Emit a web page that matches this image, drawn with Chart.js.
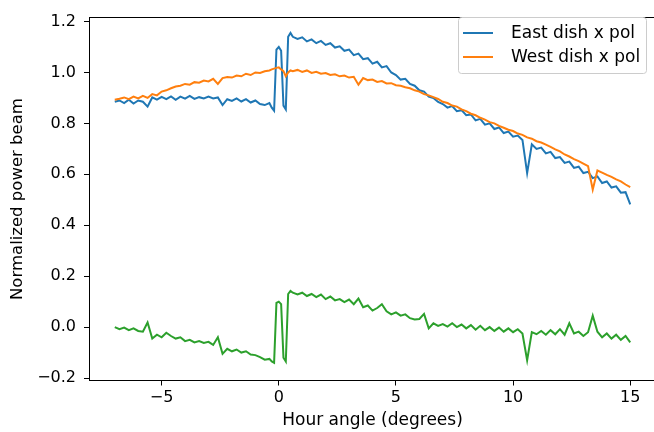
<!DOCTYPE html>
<html lang="en">
<head>
<meta charset="UTF-8">
<title>Normalized power beam</title>
<script src="https://cdn.jsdelivr.net/npm/chart.js@4.4.0/dist/chart.umd.min.js"></script>
<style>
    html, body { margin: 0; padding: 0; background: #fff; overflow: hidden; }
    .frame { width: 654px; height: 432px; overflow: hidden; }
    .box { width: 660px; height: 432px; position: relative; }
</style>
</head>
<body>
<div class="frame">
    <div class="box">
        <canvas id="beam" width="660" height="432"></canvas>
    </div>
</div>
<script>
// hour angle in degrees
const hourAngle = [
    -7.0, -6.8, -6.6, -6.4, -6.2, -6.0, -5.8, -5.6, -5.4, -5.2,
    -5.0, -4.8, -4.6, -4.4, -4.2, -4.0, -3.8, -3.6, -3.4, -3.2,
    -3.0, -2.8, -2.6, -2.4, -2.2, -2.0, -1.8, -1.6, -1.4, -1.2,
    -1.0, -0.8, -0.6, -0.4,
    -0.3, -0.2, -0.1, 0.0, 0.1, 0.2, 0.3, 0.4, 0.5,
    0.6, 0.8, 1.0, 1.2, 1.4, 1.6, 1.8, 2.0, 2.2, 2.4,
    2.6, 2.8, 3.0, 3.2, 3.4, 3.6, 3.8, 4.0, 4.2, 4.4,
    4.6, 4.8, 5.0, 5.2, 5.4, 5.6, 5.8, 6.0, 6.2, 6.4,
    6.6, 6.8, 7.0, 7.2, 7.4, 7.6, 7.8, 8.0, 8.2, 8.4,
    8.6, 8.8, 9.0, 9.2, 9.4, 9.6, 9.8, 10.0, 10.2, 10.4,
    10.6, 10.8, 11.0, 11.2, 11.4, 11.6, 11.8, 12.0, 12.2, 12.4,
    12.6, 12.8, 13.0, 13.2, 13.4, 13.6, 13.8, 14.0, 14.2, 14.4,
    14.6, 14.8, 15.0
];

const eastXpol = [
    0.885, 0.890, 0.880, 0.893, 0.878, 0.890, 0.885, 0.866, 0.902, 0.893,
    0.904, 0.895, 0.906, 0.893, 0.905, 0.897, 0.908, 0.896, 0.903, 0.898,
    0.905, 0.898, 0.902, 0.872, 0.895, 0.888, 0.898, 0.886, 0.895, 0.882,
    0.890, 0.876, 0.872, 0.880,
    0.862, 0.850, 1.090, 1.100, 1.085, 0.870, 0.855, 1.140, 1.155,
    1.140, 1.132, 1.138, 1.122, 1.130, 1.115, 1.124, 1.108, 1.115, 1.098,
    1.103, 1.085, 1.090, 1.068, 1.074, 1.052, 1.056, 1.035, 1.042, 1.020,
    1.025, 1.000, 0.990, 0.972, 0.975, 0.955, 0.948, 0.930, 0.925, 0.905,
    0.900, 0.884, 0.876, 0.862, 0.868, 0.848, 0.852, 0.832, 0.835, 0.812,
    0.818, 0.795, 0.800, 0.778, 0.784, 0.762, 0.768, 0.748, 0.752, 0.735,
    0.605, 0.718, 0.700, 0.705, 0.682, 0.688, 0.664, 0.668, 0.645, 0.650,
    0.625, 0.630, 0.605, 0.610, 0.585, 0.592, 0.566, 0.572, 0.548, 0.553,
    0.528, 0.530, 0.482
];

const westXpol = [
    0.893, 0.897, 0.902, 0.895, 0.905, 0.898, 0.908, 0.900, 0.915, 0.910,
    0.925, 0.930, 0.938, 0.945, 0.948, 0.955, 0.952, 0.962, 0.960, 0.968,
    0.965, 0.975, 0.955, 0.978, 0.982, 0.980, 0.988, 0.985, 0.995, 0.990,
    1.000, 0.998, 1.005, 1.008,
    1.012, 1.015, 1.018, 1.020, 1.012, 1.005, 0.985, 1.000, 1.008,
    1.005, 1.010, 1.002, 1.008, 0.998, 1.003, 0.995, 0.998, 0.990, 0.993,
    0.985, 0.988, 0.980, 0.983, 0.952, 0.978, 0.970, 0.972, 0.963, 0.966,
    0.957, 0.958, 0.950, 0.948, 0.942, 0.938, 0.930, 0.925, 0.915, 0.910,
    0.903, 0.896, 0.885, 0.880, 0.870, 0.866, 0.855, 0.848, 0.838, 0.832,
    0.822, 0.815, 0.805, 0.800, 0.790, 0.783, 0.775, 0.770, 0.760, 0.755,
    0.745, 0.740, 0.730, 0.725, 0.717, 0.708, 0.698, 0.690, 0.678, 0.670,
    0.660, 0.652, 0.642, 0.632, 0.540, 0.615, 0.607, 0.598, 0.590, 0.580,
    0.572, 0.560, 0.550
];

// east minus west
const diffXpol = [
    0.000, -0.008, -0.002, -0.012, -0.005, -0.015, -0.018, 0.018, -0.045, -0.030,
    -0.040, -0.022, -0.035, -0.045, -0.040, -0.055, -0.050, -0.060, -0.055, -0.062,
    -0.058, -0.070, -0.040, -0.105, -0.085, -0.095, -0.088, -0.100, -0.095, -0.108,
    -0.110, -0.118, -0.128, -0.125,
    -0.135, -0.140, 0.095, 0.100, 0.090, -0.120, -0.135, 0.130, 0.142,
    0.135, 0.128, 0.135, 0.122, 0.130, 0.118, 0.128, 0.110, 0.120, 0.105,
    0.110, 0.098, 0.108, 0.090, 0.112, 0.078, 0.085, 0.065, 0.075, 0.090,
    0.062, 0.050, 0.058, 0.045, 0.050, 0.035, 0.030, 0.032, 0.052, -0.005,
    0.015, 0.005, 0.012, 0.002, 0.015, 0.000, 0.010, -0.005, 0.008, -0.010,
    0.005, -0.012, 0.000, -0.015, -0.002, -0.018, -0.005, -0.020, -0.008, -0.025,
    -0.130, -0.020, -0.028, -0.015, -0.030, -0.012, -0.028, -0.008, -0.030, 0.015,
    -0.025, -0.018, -0.035, -0.020, 0.045, -0.018, -0.040, -0.025, -0.045, -0.030,
    -0.050, -0.035, -0.060
];

const xTicks = [-5, 0, 5, 10, 15];
const yTicks = [-0.2, 0.0, 0.2, 0.4, 0.6, 0.8, 1.0, 1.2];

const FONT = 'DejaVu Sans';

function pts(vals) {
    return hourAngle.map((x, i) => ({ x: x, y: vals[i] }));
}

function minus(s) {
    return String(s).replace('-', '\u2212');
}

// matplotlib style legend box in the upper right corner
const legendBox = {
    id: 'legendBox',
    afterDraw(chart) {
        const ctx = chart.ctx;
        ctx.save();
        ctx.beginPath();
        ctx.roundRect(458.5, 17.5, 188, 56, 3);
        ctx.fillStyle = 'rgba(255,255,255,0.8)';
        ctx.fill();
        ctx.strokeStyle = '#cccccc';
        ctx.lineWidth = 1;
        ctx.stroke();
        let row = 0;
        chart.data.datasets.forEach(function (ds) {
            if (!ds.label) return;
            const y = 33 + row * 24;
            ctx.beginPath();
            ctx.moveTo(463, y);
            ctx.lineTo(493, y);
            ctx.strokeStyle = ds.borderColor;
            ctx.lineWidth = 2;
            ctx.stroke();
            ctx.fillStyle = '#000';
            ctx.font = '17px "' + FONT + '"';
            ctx.textBaseline = 'middle';
            ctx.textAlign = 'left';
            ctx.fillText(ds.label, 511, y + 1);
            row++;
        });
        ctx.restore();
    }
};

new Chart(document.getElementById('beam'), {
    type: 'line',
    data: {
        datasets: [
            { label: 'East dish x pol', data: pts(eastXpol), borderColor: '#1f77b4', order: 3 },
            { label: 'West dish x pol', data: pts(westXpol), borderColor: '#ff7f0e', order: 2 },
            { label: '', data: pts(diffXpol), borderColor: '#2ca02c', order: 1 }
        ]
    },
    options: {
        responsive: false,
        animation: false,
        devicePixelRatio: 1,
        // canvas is a bit wider than the frame so the right spine falls just outside, like the original
        layout: { padding: { top: 11.5, right: 4, left: 0, bottom: 0 } },
        elements: {
            line: { borderWidth: 2, tension: 0, fill: false },
            point: { radius: 0 }
        },
        plugins: {
            legend: { display: false },
            tooltip: { enabled: false }
        },
        scales: {
            x: {
                type: 'linear',
                position: 'bottom',
                min: -8.1,
                max: 16.1,
                afterBuildTicks: function (scale) {
                    scale.ticks = xTicks.map(v => ({ value: v }));
                },
                afterFit: function (scale) { scale.height = 51.5; },
                ticks: {
                    color: '#000',
                    font: { family: FONT, size: 16 },
                    padding: 3,
                    maxRotation: 0,
                    callback: v => minus(v)
                },
                grid: { drawOnChartArea: false, drawTicks: true, tickLength: 5, color: '#000' },
                border: { display: true, color: '#000', width: 1 },
                title: {
                    display: true,
                    text: 'Hour angle (degrees)',
                    color: '#000',
                    font: { family: FONT, size: 17 },
                    padding: { top: 4, bottom: 1 }
                }
            },
            top: {
                type: 'linear',
                position: 'top',
                min: 0,
                max: 1,
                ticks: { display: false },
                grid: { display: false },
                border: { display: true, color: '#000', width: 1 },
                afterFit: function (scale) { scale.height = 0; }
            },
            y: {
                type: 'linear',
                min: -0.2097,
                max: 1.2155,
                afterBuildTicks: function (scale) {
                    scale.ticks = yTicks.map(v => ({ value: v }));
                },
                afterFit: function (scale) { scale.width = 89; },
                ticks: {
                    color: '#000',
                    font: { family: FONT, size: 16 },
                    padding: 8,
                    callback: v => minus(v.toFixed(1))
                },
                grid: { drawOnChartArea: false, drawTicks: true, tickLength: 5, color: '#000' },
                border: { display: true, color: '#000', width: 1 },
                title: {
                    display: true,
                    text: 'Normalized power beam',
                    color: '#000',
                    font: { family: FONT, size: 16.5 },
                    padding: { top: 7.5, bottom: 0 }
                }
            }
        }
    },
    plugins: [legendBox]
});
</script>
</body>
</html>
